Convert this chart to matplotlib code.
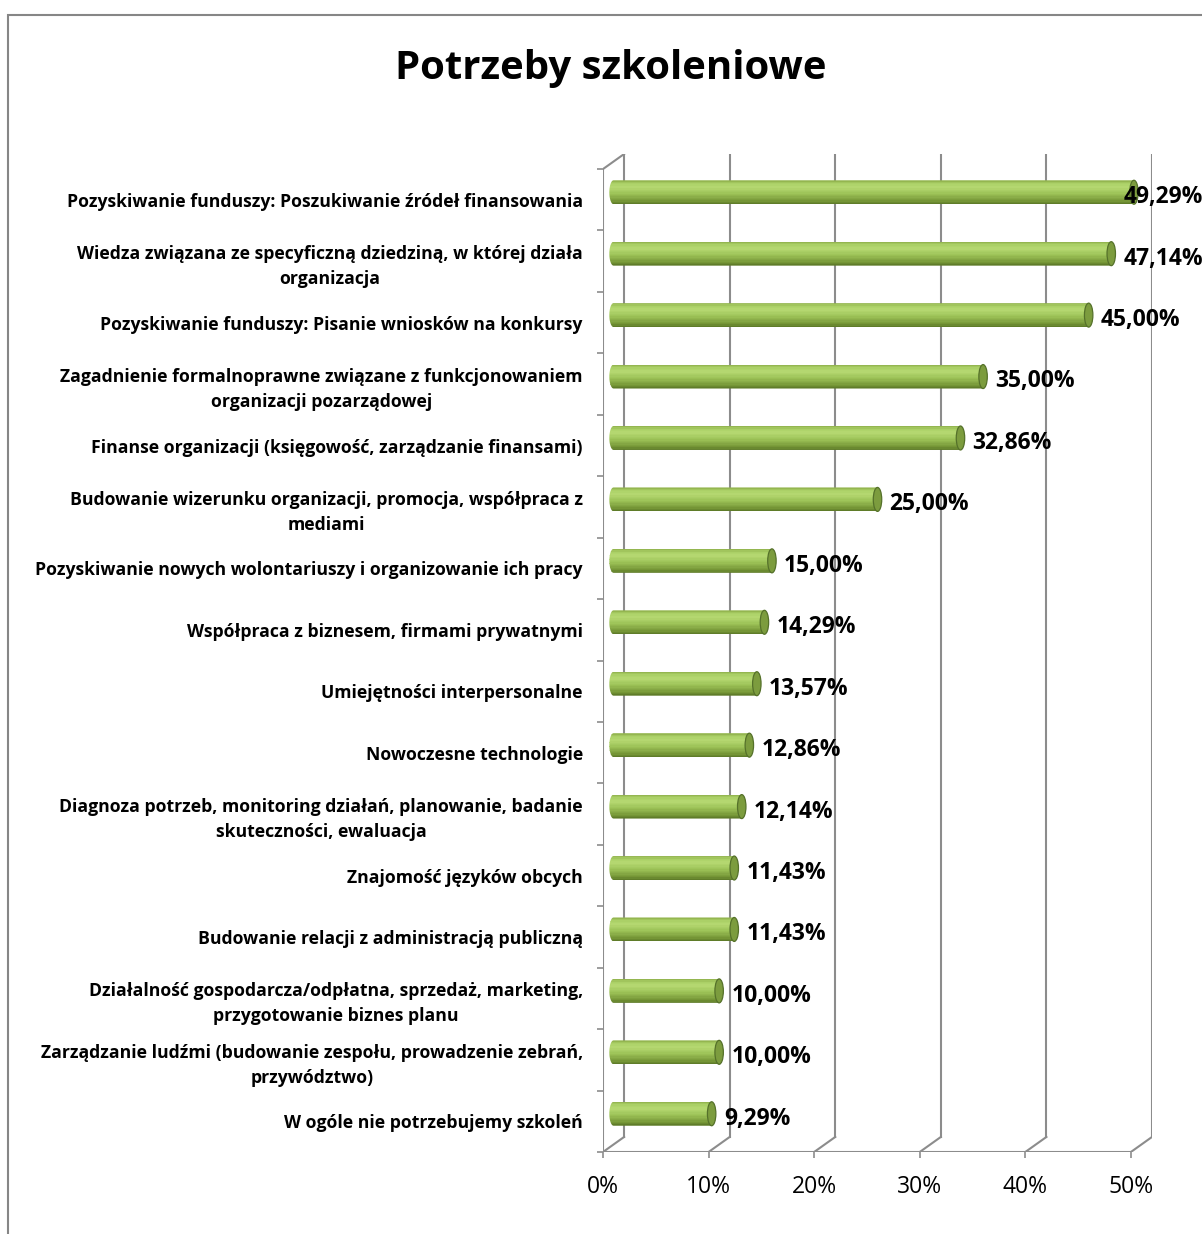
"""
Horizontal 3D-style cylinder bar chart: training needs of NGOs (Excel look).
"""

import matplotlib
matplotlib.use('Agg')
import matplotlib.pyplot as plt
import numpy as np
from matplotlib import transforms
from matplotlib.colors import LinearSegmentedColormap
from matplotlib.patches import Ellipse, PathPatch, Rectangle
from matplotlib.path import Path

plt.rcParams['font.family'] = ['Open Sans', 'DejaVu Sans']

title = 'Potrzeby szkoleniowe'

categories = [
    'Pozyskiwanie funduszy: Poszukiwanie źródeł finansowania',
    'Wiedza związana ze specyficzną dziedziną, w której działa\norganizacja',
    'Pozyskiwanie funduszy: Pisanie wniosków na konkursy',
    'Zagadnienie formalnoprawne związane z funkcjonowaniem\norganizacji pozarządowej',
    'Finanse organizacji (księgowość, zarządzanie finansami)',
    'Budowanie wizerunku organizacji, promocja, współpraca z\nmediami',
    'Pozyskiwanie nowych wolontariuszy i organizowanie ich pracy',
    'Współpraca z biznesem, firmami prywatnymi',
    'Umiejętności interpersonalne',
    'Nowoczesne technologie',
    'Diagnoza potrzeb, monitoring działań, planowanie, badanie\nskuteczności, ewaluacja',
    'Znajomość języków obcych',
    'Budowanie relacji z administracją publiczną',
    'Działalność gospodarcza/odpłatna, sprzedaż, marketing,\nprzygotowanie biznes planu',
    'Zarządzanie ludźmi (budowanie zespołu, prowadzenie zebrań,\nprzywództwo)',
    'W ogóle nie potrzebujemy szkoleń',
]
values = [49.29, 47.14, 45.00, 35.00, 32.86, 25.00, 15.00, 14.29,
          13.57, 12.86, 12.14, 11.43, 11.43, 10.00, 10.00, 9.29]
x_ticks = [0, 10, 20, 30, 40, 50]
x_tick_labels = ['0%', '10%', '20%', '30%', '40%', '50%']

# 3D look: depth offset of the back wall (x in %, y in category units)
DX = 2.0
DY = 0.245
BAR_H = 0.39
CAP_W = 0.8
GRID = '#8c8c8c'

bar_cmap = LinearSegmentedColormap.from_list('cyl', [
    (0.00, '#5a7626'),
    (0.15, '#779838'),
    (0.45, '#9dc358'),
    (0.72, '#b6d972'),
    (0.88, '#aacf66'),
    (1.00, '#8dae4a'),
])

fig = plt.figure(figsize=(12.02, 12.34), dpi=100)
W, H = 1202, 1234
ax = fig.add_axes([603 / W, 82 / H, 549 / W, 998 / H])
n = len(categories)
ax.set_xlim(0, 52)
ax.set_ylim(-0.5, n - 0.5 + DY)
for s in ax.spines.values():
    s.set_visible(False)

# chart frame (cut by the image edge on right and bottom)
fig.patches.append(Rectangle((8 / W, -0.1), 1.2, 1 - 15 / H + 0.1,
                             transform=fig.transFigure, fill=False,
                             edgecolor='#868686', lw=1.5))

# walls and gridlines
for t in x_ticks:
    ax.plot([t + DX, t + DX], [-0.5 + DY, n - 0.5 + DY], color=GRID, lw=1.5, zorder=1)
    ax.plot([t, t + DX], [-0.5, -0.5 + DY], color=GRID, lw=1.5, zorder=1)
ax.plot([0, x_ticks[-1]], [-0.5, -0.5], color=GRID, lw=1.5, zorder=1)
ax.plot([0, 0], [-0.5, n - 0.5], color=GRID, lw=1.5, zorder=1)
ax.plot([0, DX], [n - 0.5, n - 0.5 + DY], color=GRID, lw=1.5, zorder=1)

# ticks
ax.set_xticks(x_ticks, x_tick_labels)
ax.tick_params(axis='x', length=4.3, width=1.2, color=GRID, pad=12,
               labelsize=16.5)
ax.set_yticks(np.arange(n + 1) - 0.5, [''] * (n + 1))
ax.tick_params(axis='y', which='major', length=4.3, width=1.2, color=GRID)
ypos = n - 1 - np.arange(n)
ax.set_yticks(ypos, categories, minor=True)
ax.tick_params(axis='y', which='minor', length=0, pad=14.5, labelsize=12.7)
for lbl in ax.get_yticklabels(minor=True):
    lbl.set_fontweight('bold')
    lbl.set_multialignment('center')
    lbl.set_linespacing(1.5)

# cylinders
n_strips = 18
fracs = (np.arange(n_strips) + 0.5) / n_strips
value_texts = []
for v, y in zip(values, ypos):
    yc = y + DY / 2
    x0 = DX / 2
    x1 = v + DX / 2
    t = np.linspace(1.5 * np.pi, 0.5 * np.pi, 24)
    arc = np.column_stack([x0 + CAP_W / 2 * np.cos(t), yc + BAR_H / 2 * np.sin(t)])
    verts = np.vstack([[[x0, yc + BAR_H / 2], [x1, yc + BAR_H / 2],
                        [x1, yc - BAR_H / 2], [x0, yc - BAR_H / 2]], arc,
                       [[x0, yc + BAR_H / 2]]])
    clip = PathPatch(Path(verts), transform=ax.transData, visible=False)
    ax.add_patch(clip)
    strips = ax.barh(yc - BAR_H / 2 + fracs * BAR_H, x1 - (x0 - CAP_W / 2),
                     height=BAR_H / n_strips * 1.05, left=x0 - CAP_W / 2,
                     color=bar_cmap(fracs), lw=0, zorder=3)
    for b in strips:
        b.set_clip_path(clip)
    ax.add_patch(Ellipse((x1, yc), CAP_W, BAR_H, facecolor='#7c9c3e',
                         edgecolor='#55712a', lw=0.9, zorder=4))
    label = f'{v:.2f}%'.replace('.', ',')
    value_texts.append(ax.text(x1 + CAP_W / 2 + 0.75, yc - 0.08, label,
                               ha='left', va='center', fontsize=16.5,
                               fontweight='bold', zorder=5))

fig.text(611 / W, 1 - 68 / H, title, ha='center', va='center',
         fontsize=28.9, fontweight='bold')

# keep value labels inside the chart area, as Excel does
fig.canvas.draw()
renderer = fig.canvas.get_renderer()
for txt in value_texts:
    bb = txt.get_window_extent(renderer)
    over = bb.x1 - (W + 1)
    if over > 0:
        txt.set_transform(transforms.offset_copy(txt.get_transform(), fig=fig,
                                                 x=-over, units='dots'))

fig.savefig('out.png', dpi=100)
